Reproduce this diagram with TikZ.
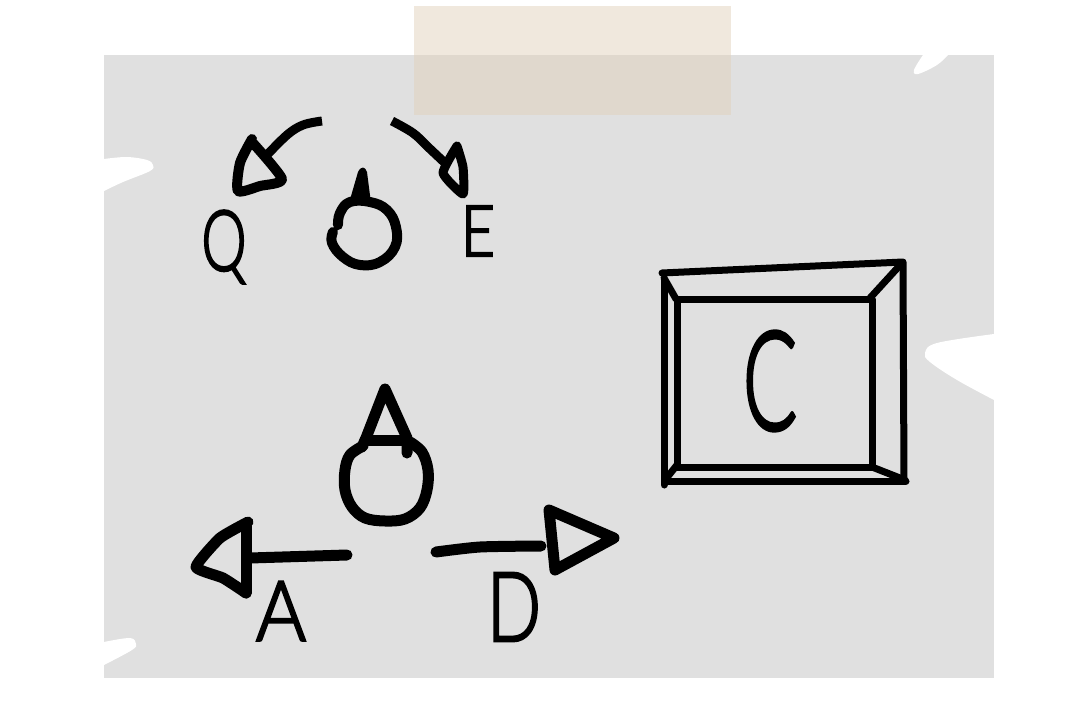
\documentclass[tikz,border=0pt]{standalone}
\usepackage{fontspec}
\usepackage{graphicx}
\setmainfont[FakeBold=3]{Lato Light}
\definecolor{paper}{HTML}{E0E0E0}
\definecolor{tape}{RGB}{225,209,187}
\tikzset{
  ink/.style={draw=black,line cap=round,line join=round,line width=#1},
  ink/.default=8pt,
  notch/.style={fill=white,draw=none},
  letter/.style={inner sep=0pt,outer sep=0pt,text=black}
}
\newcommand{\fitletter}[3]{\resizebox{#1pt}{#2pt}{#3}}
\begin{document}
\begin{tikzpicture}[x=1pt,y=-1pt]
\useasboundingbox (0,0) rectangle (1080,720);
\fill[paper] (104,55) rectangle (994,678);
% torn notches
\fill[notch] plot[smooth,tension=.6] coordinates {(104,159) (127,157) (147,160) (153,165) (150,171) (123,182) (104,191)} -- cycle;
\fill[notch] plot[smooth,tension=.6] coordinates {(923,55) (914,70) (918,74) (937,65) (948,55)} -- cycle;
\fill[notch] plot[smooth,tension=.6] coordinates {(994,334) (937,343) (925,353) (930,362) (957,380) (994,400)} -- cycle;
\fill[notch] plot[smooth,tension=.6] coordinates {(104,642) (130,638) (136,644) (132,650) (104,665)} -- cycle;
% tape
\fill[tape,opacity=.5] (414,6) rectangle (731,115);
% top group
\draw[ink=9pt,line cap=butt] plot[smooth,tension=.6] coordinates {(322,121) (303,125) (287,135) (265,157)};
\draw[ink=10pt] plot[smooth,tension=.4] coordinates {(252,139) (240,163) (238,191) (260,186) (282,179) (252,142)};
\draw[ink=9pt,line cap=butt] plot[smooth,tension=.6] coordinates {(392,121) (413,133) (428,147) (445,163)};
\draw[ink=9pt] plot[smooth,tension=.3] coordinates {(457,146) (443,173) (463,194) (463,167) (457,146)};
\draw[ink=10pt] plot[smooth,tension=.7] coordinates {(338,225) (340,213) (350,202) (370,202) (387,210) (396,227) (395,247) (380,262) (360,265) (343,257) (332,243) (333,232)};
\fill[black] (349,203) -- (358,172) .. controls (361,166) and (365,166) .. (367,172) -- (371,203) -- cycle;
% big circle group
\draw[ink=11pt] (362,447) -- (366,438) -- (385,389) -- (407,438) -- (407,453);
\draw[ink=11pt] (365,440) -- (407,440);
\draw[ink=11pt] plot[smooth,tension=.6] coordinates {(363,446) (350,455) (345,470) (345,490) (352,507) (365,518) (385,521) (405,519) (420,508) (427,490) (428,470) (422,452) (410,442)};
% left arrow
\draw[ink=11pt] (347,555) -- (250,558);
\draw[ink=11pt] plot[smooth,tension=.3] coordinates {(248,522) (220,538) (196,567) (223,578) (246,593)};
\draw[ink=11pt] (246,593) -- (246,526);
% right arrow
\draw[ink=11pt] plot[smooth,tension=.4] coordinates {(436,552) (480,547) (541,546)};
\draw[ink=11pt] (549,510) -- (614,538) -- (555,570) -- cycle;
% key frame
\draw[ink=7pt] (662,273) -- (903,262) -- (904,480);
\draw[ink=7pt] (665,481) -- (906,481);
\draw[ink=7pt] (664,280) -- (664,485);
\draw[ink=7pt] (677,299) rectangle (872,467);
\draw[ink=7pt] (664,278) -- (676,299);
\draw[ink=7pt] (902,263) -- (870,298);
\draw[ink=7pt] (665,480) -- (677,465);
\draw[ink=7pt] (872,467) -- (905,480);
% labels
\node[letter] (keyQ) at (224,247) {\fitletter{45}{60}{Q}};
\node[letter] (keyE) at (478,231) {\fitletter{34}{50}{E}};
\node[letter] (keyA) at (281,611) {\fitletter{50}{59}{A}};
\node[letter] (keyD) at (514,607) {\fitletter{54}{68}{D}};
\node[letter] (keyC) at (770,381) {\fitletter{54}{98}{C}};
\end{tikzpicture}
\end{document}
